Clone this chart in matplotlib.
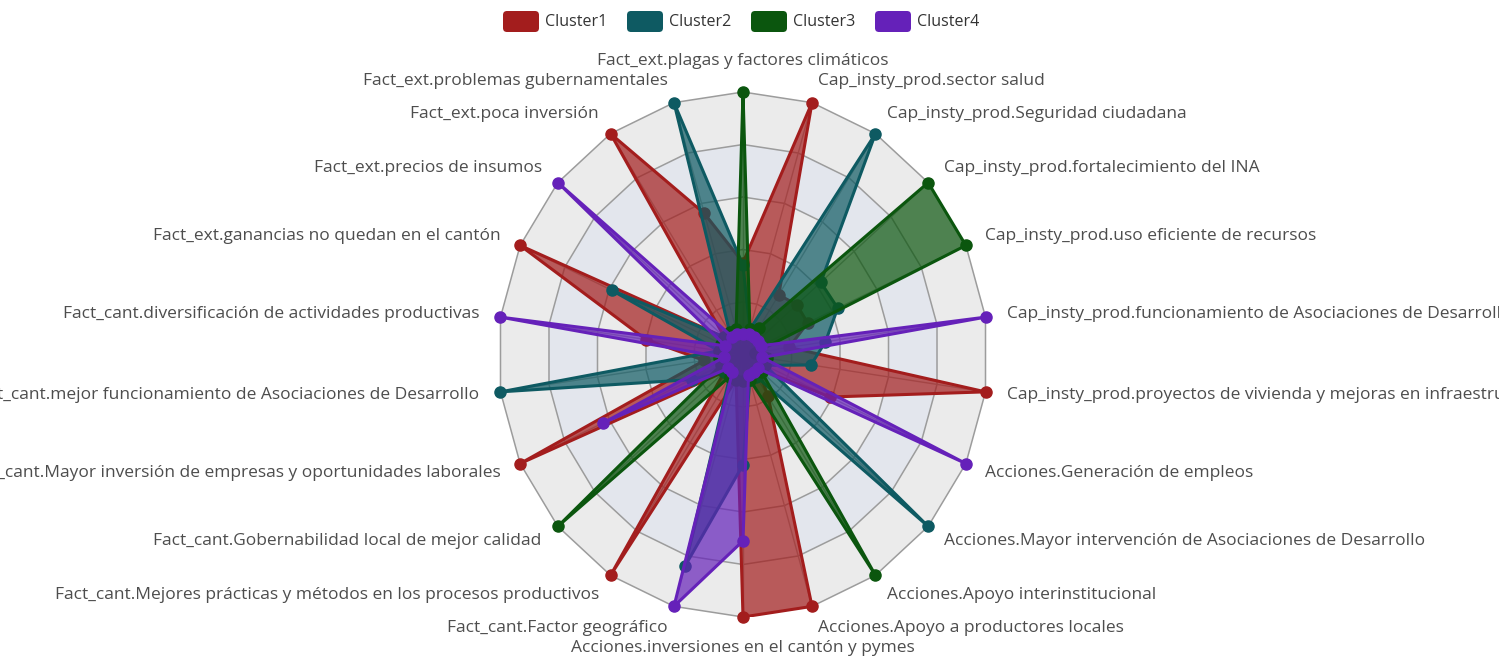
import numpy as np
import matplotlib
matplotlib.use('Agg')
import matplotlib.pyplot as plt
from matplotlib.patches import FancyBboxPatch

indicators = [
    "Fact_ext.plagas y factores climáticos",
    "Cap_insty_prod.sector salud",
    "Cap_insty_prod.Seguridad ciudadana",
    "Cap_insty_prod.fortalecimiento del INA",
    "Cap_insty_prod.uso eficiente de recursos",
    "Cap_insty_prod.funcionamiento de Asociaciones de Desarrollo",
    "Cap_insty_prod.proyectos de vivienda y mejoras en infraestructura",
    "Acciones.Generación de empleos",
    "Acciones.Mayor intervención de Asociaciones de Desarrollo",
    "Acciones.Apoyo interinstitucional",
    "Acciones.Apoyo a productores locales",
    "Acciones.inversiones en el cantón y pymes",
    "Fact_cant.Factor geográfico",
    "Fact_cant.Mejores prácticas y métodos en los procesos productivos",
    "Fact_cant.Gobernabilidad local de mejor calidad",
    "Fact_cant.Mayor inversión de empresas y oportunidades laborales",
    "Fact_cant.mejor funcionamiento de Asociaciones de Desarrollo",
    "Fact_cant.diversificación de actividades productivas",
    "Fact_ext.ganancias no quedan en el cantón",
    "Fact_ext.precios de insumos",
    "Fact_ext.poca inversión",
    "Fact_ext.problemas gubernamentales",
]

clusters = ["Cluster1", "Cluster2", "Cluster3", "Cluster4"]
cluster1 = [0.35, 1.0, 0.27, 0.29, 0.29, 0.19, 1.0, 0.39, 0.08, 0.19, 1.0,
            1.0, 0.10, 1.0, 0.10, 1.0, 0.16, 0.40, 1.0, 0.10, 1.0, 0.56]
cluster2 = [0.34, 0.10, 1.0, 0.42, 0.425, 0.34, 0.28, 0.10, 1.0, 0.10, 0.10,
            0.42, 0.84, 0.10, 0.10, 0.23, 1.0, 0.10, 0.59, 0.10, 0.10, 1.0]
cluster3 = [1.0, 0.10, 0.12, 1.0, 1.0, 0.05, 0.10, 0.10, 0.10, 1.0, 0.10,
            0.10, 0.10, 0.10, 1.0, 0.10, 0.10, 0.10, 0.10, 0.10, 0.10, 0.10]
cluster4 = [0.08, 0.08, 0.08, 0.08, 0.08, 1.0, 0.08, 1.0, 0.08, 0.08, 0.08,
            0.71, 1.0, 0.08, 0.08, 0.63, 0.08, 1.0, 0.08, 1.0, 0.08, 0.08]
series = [cluster1, cluster2, cluster3, cluster4]
colors = ["#a31d1d", "#0e5a62", "#0b560e", "#6521b9"]

W, H = 1499, 662
fig = plt.figure(figsize=(W / 100, H / 100), dpi=100)
fig.patch.set_facecolor("white")
cx, cy, rx, ry = 743, 354.5, 245, 262.5
ax = fig.add_axes([(cx - rx) / W, (H - cy - ry) / H, 2 * rx / W, 2 * ry / H])
ax.set_xlim(-1, 1)
ax.set_ylim(-1, 1)
ax.axis("off")

n = len(indicators)
theta = np.pi / 2 - 2 * np.pi * np.arange(n) / n
cs, sn = np.cos(theta), np.sin(theta)

levels = [0.2, 0.4, 0.6, 0.8, 1.0]
band_colors = ["#ebebeb", "#e3e6ed"]
for k in range(len(levels) - 1, -1, -1):
    r = levels[k]
    ax.fill(r * cs, r * sn, color=band_colors[k % 2], lw=0, zorder=0)
for r in levels:
    ax.plot(np.append(r * cs, r * cs[0]), np.append(r * sn, r * sn[0]),
            color="#9c9c9c", lw=1.1, zorder=1)
for i in range(n):
    ax.plot([0, cs[i]], [0, sn[i]], color="#a5a5a5", lw=1.0, zorder=1)

for k, (vals, col) in enumerate(zip(series, colors)):
    v = np.array(vals)
    x, y = v * cs, v * sn
    ax.fill(x, y, color=col, alpha=0.7, lw=0, zorder=2 + k)
    ax.plot(np.append(x, x[0]), np.append(y, y[0]), color=col, lw=2.2,
            zorder=2 + k, solid_joinstyle="round")
    ax.plot(x, y, "o", color=col, ms=8, zorder=2 + k, clip_on=False)

rl = 1.087
for i, name in enumerate(indicators):
    c = cs[i]
    if abs(c) < 1e-6:
        ha = "center"
    elif c > 0:
        ha = "left"
    else:
        ha = "right"
    va = "center"
    if i == 0:
        va = "bottom"
    elif i == n // 2:
        va = "top"
    ax.text(rl * cs[i], rl * sn[i], name, ha=ha, va=va, fontsize=12.5,
            color="#4d4d4d", family="Open Sans", clip_on=False)

# legend in pixel coordinates
lax = fig.add_axes([0, 0, 1, 1], facecolor="none")
lax.set_xlim(0, W)
lax.set_ylim(H, 0)
lax.axis("off")
for k, (name, col) in enumerate(zip(clusters, colors)):
    x0 = 503 + 124 * k
    lax.add_patch(FancyBboxPatch((x0, 11), 36, 21,
                                 boxstyle="round,pad=0,rounding_size=4",
                                 fc=col, ec="none"))
    lax.text(x0 + 42, 21.5, name, ha="left", va="center", fontsize=11.5,
             color="#333333", family="Open Sans")

fig.savefig("out.png", dpi=100)
